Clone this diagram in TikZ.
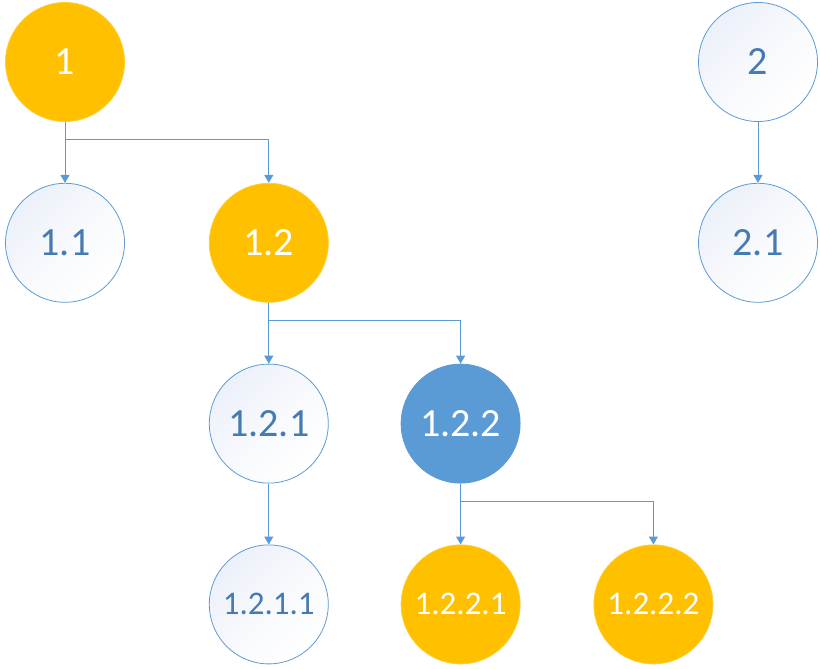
\documentclass[tikz,border=0pt]{standalone}
\usepackage{fontspec}
\setmainfont{Carlito}
\usetikzlibrary{arrows.meta,positioning}
\definecolor{trgold}{RGB}{255,192,0}
\definecolor{trblue}{RGB}{91,155,213}
\definecolor{trink}{RGB}{70,122,178}
\definecolor{trpale}{RGB}{236,240,249}
\tikzset{
  tnode/.style={circle, minimum size=119pt, inner sep=0pt, line width=0.8pt,
                font=\fontsize{40}{44}\selectfont},
  tgold/.style={tnode, fill=trgold, draw=trgold!80!white, text=white},
  tblue/.style={tnode, fill=trblue, draw=trblue, text=white},
  tpale/.style={tnode, top color=trpale, bottom color=white, middle color=white!60!trpale,
                shading angle=45, draw=trblue, text=trink},
  tsmall/.style={font=\fontsize{33}{36}\selectfont},
  tarr/.style={-{Triangle[width=9pt,length=8pt]}, line width=1pt, trblue},
}
\begin{document}
\begin{tikzpicture}[x=1pt, y=-1pt, node distance=61pt and 84pt]
        \useasboundingbox (0,0) rectangle (820,669);
        \node[tgold](n1) at (65,62){1};
        \node[tpale, below=of n1](n11){1.1};
        \node[tgold, right=of n11](n12){1.2};
        \node[tpale, below=of n12](n121){1.2.1};
        \node[tblue, right=72pt of n121](n122){1.2.2};
        \node[tpale, tsmall, below=of n121](n1211){1.2.1.1};
        \node[tgold, tsmall, below=of n122](n1221){1.2.2.1};
        \node[tgold, tsmall, right=73pt of n1221](n1222){1.2.2.2};
        \node[tpale](n2) at (758,62){2};
        \node[tpale, below=of n2](n21){2.1};
        \draw[tarr](n1)--(n11);\draw[tarr](n1.south)--++(0,18)-|(n12.north);
        \draw[tarr](n12)--(n121);\draw[tarr](n12.south)--++(0,18)-|(n122.north);
        \draw[tarr](n121)--(n1211);
        \draw[tarr](n122)--(n1221);\draw[tarr](n122.south)--++(0,18)-|(n1222.north);
        \draw[tarr](n2)--(n21);
    \end{tikzpicture}
\end{document}
